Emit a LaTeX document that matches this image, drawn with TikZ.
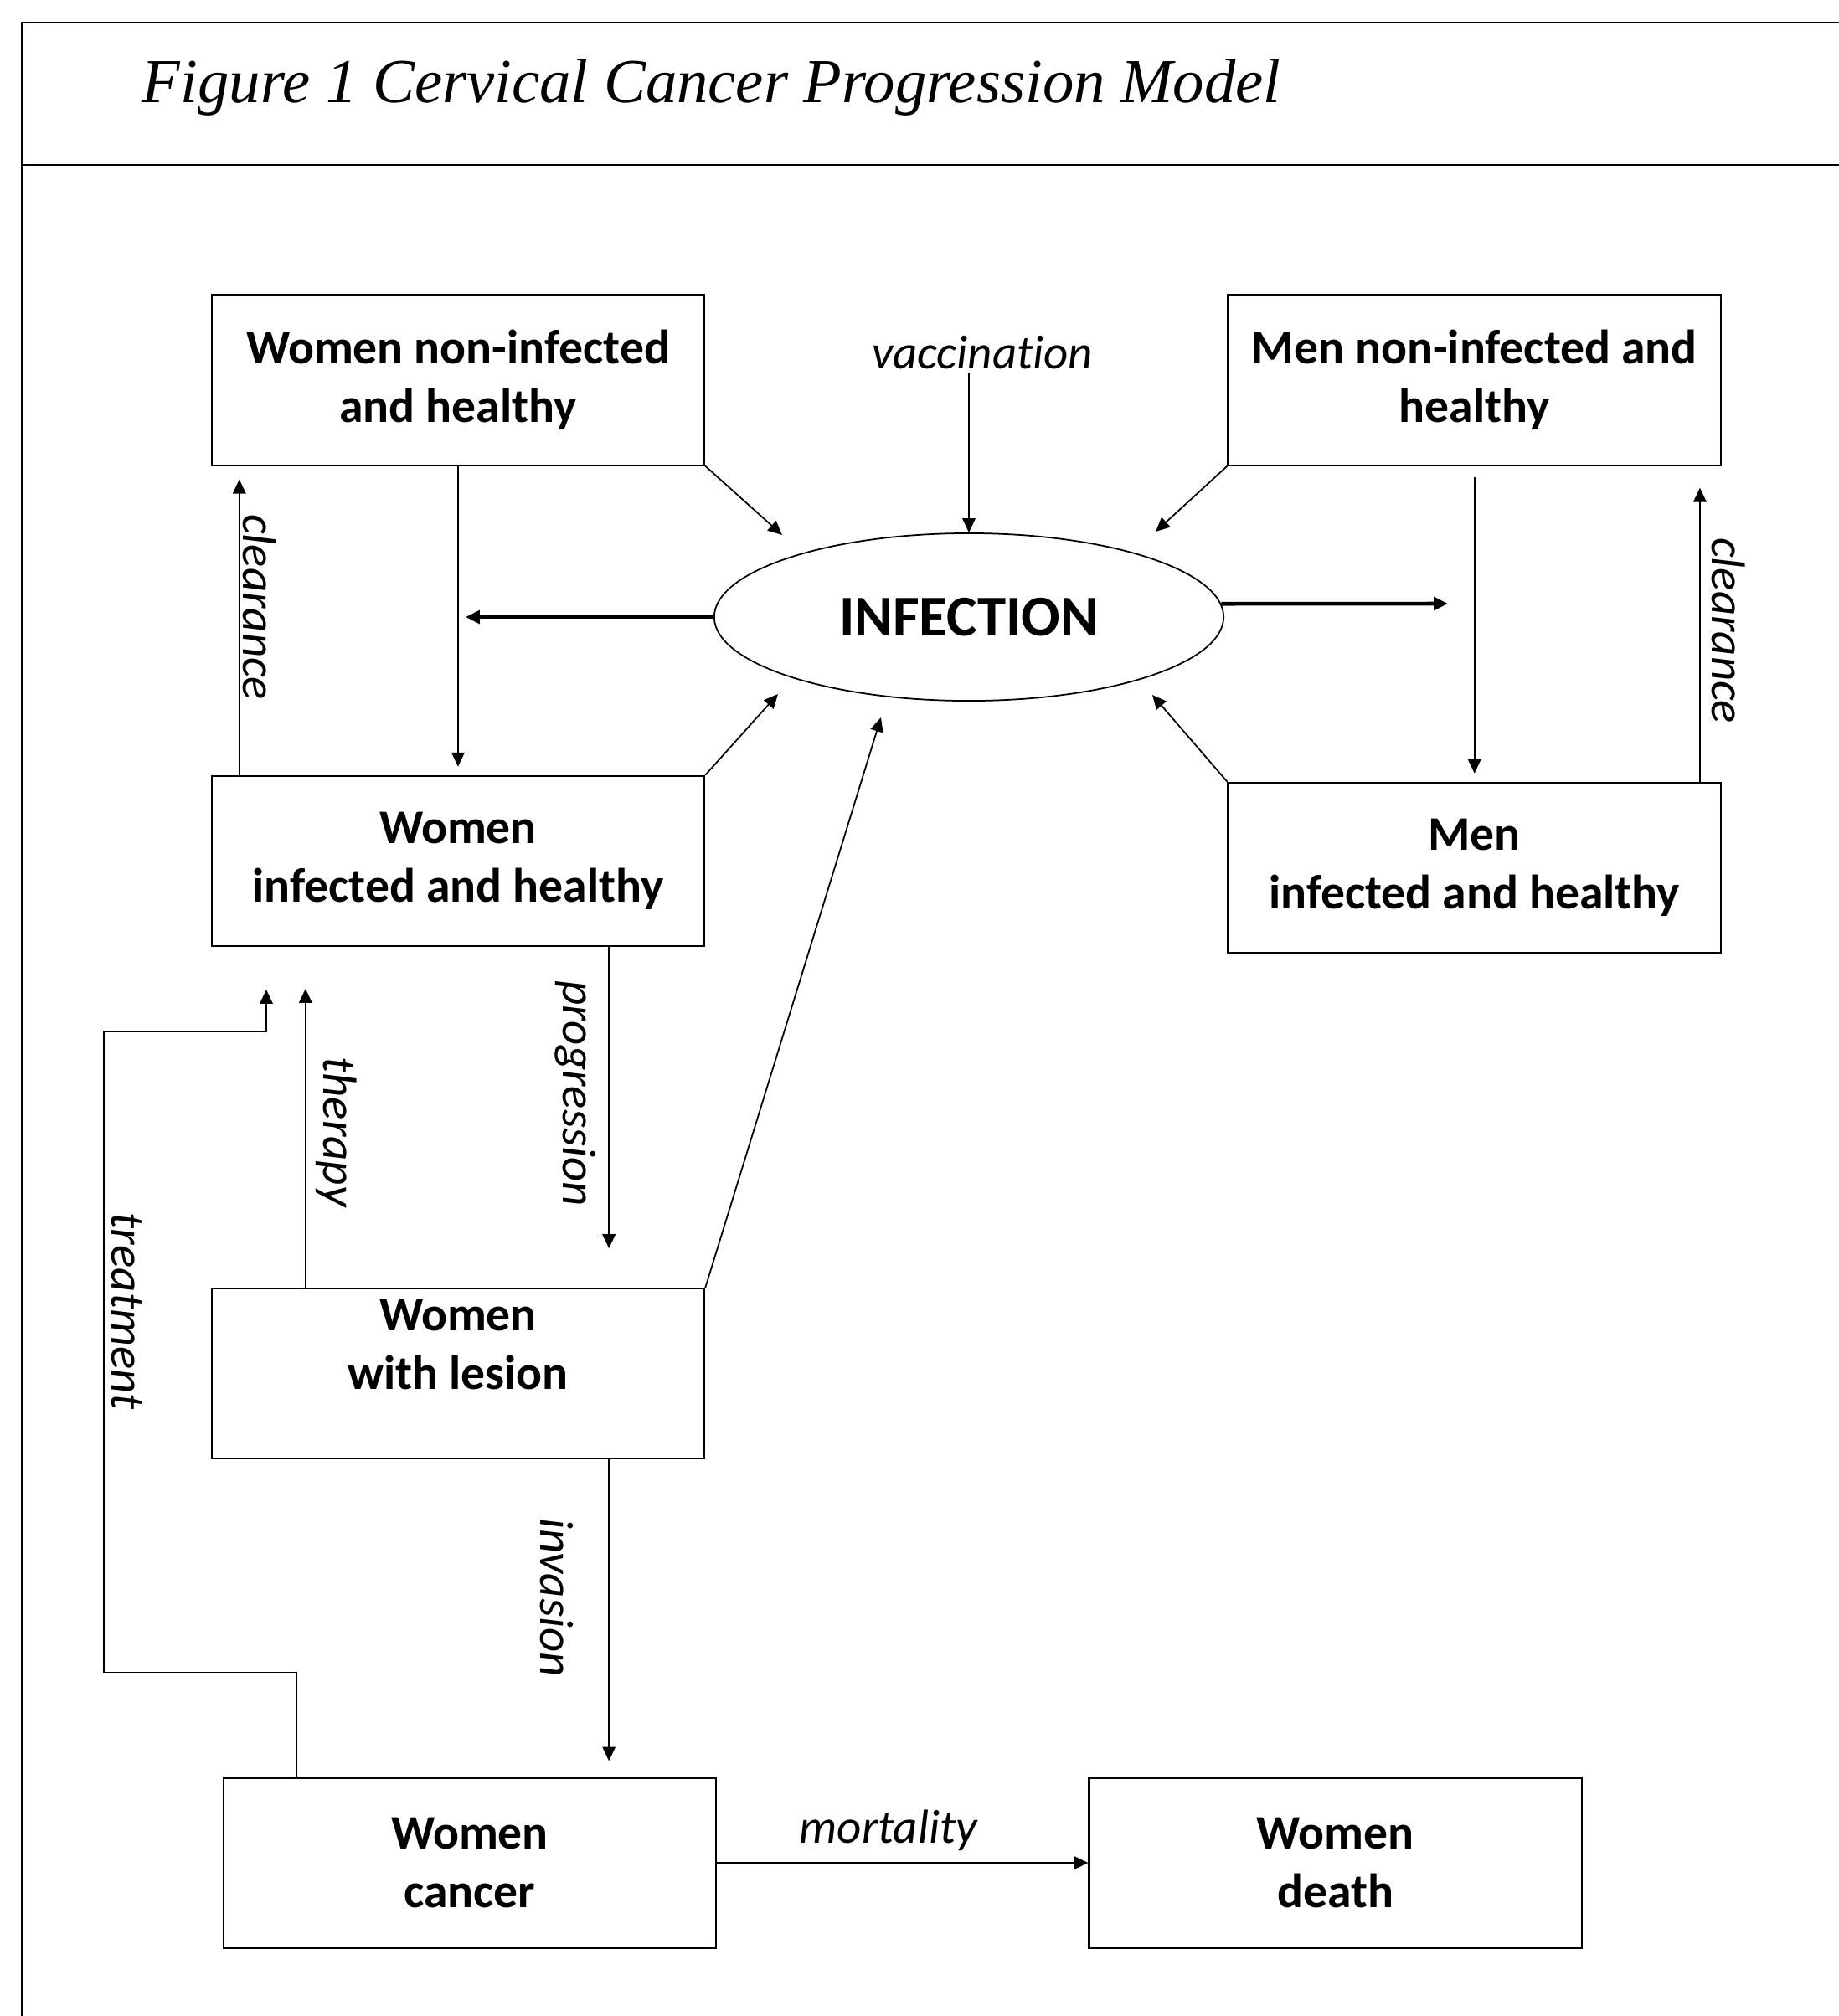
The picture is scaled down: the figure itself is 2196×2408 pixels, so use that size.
\documentclass[tikz,border=0pt]{standalone}
\usepackage{fontspec}
\usepackage{tikz}
\usetikzlibrary{arrows.meta,positioning,shapes.geometric}
\newfontfamily\calibri[Ligatures=NoCommon]{Carlito}
\newfontfamily\titlefont{Liberation Serif}

\begin{document}
\begin{tikzpicture}[x=0.01cm,y=-0.01cm,on grid,line width=0.5pt,
        >={Triangle[length=4.8pt,width=4.4pt]},
        box/.style={draw,rectangle,line width=0.6pt,minimum width=5.88cm,minimum height=2.03cm,
            inner sep=0pt,align=center,font=\calibri\bfseries\fontsize{16.4}{19.8}\selectfont},
        lbl/.style={inner sep=1pt,font=\calibri\itshape\fontsize{16.2}{19}\selectfont},
        heavy/.style={->,line width=1.3pt}]
    \useasboundingbox (0,0) rectangle (2196,2408);
    % frame and title
    \draw[line width=0.8pt] (26,2408) -- (26,27) -- (2196,27);
    \draw[line width=0.8pt] (26,197) -- (2196,197);
    \node[anchor=base west,inner sep=0pt,font=\titlefont\itshape\fontsize{21.25}{25}\selectfont] (title) at (169,122)
        {Figure 1 Cervical Cancer Progression Model};
    % compartments
    \node[box] (w_1) at (547,454) {Women non-infected\\and healthy};
    \node[box] (w_2) [below=5.74cm of w_1] {Women\\infected and healthy};
    \node[box] (w_3) [below=6.12cm of w_2] {Women\\with lesion\\ ~};
    \node[box] (w_4) [below right=5.84cm and 0.14cm of w_3] {Women\\cancer};
    \node[box] (w_5) [right=10.33cm of w_4] {Women\\death};
    \node[box] (m_1) [right=12.13cm of w_1] {Men non-infected and\\healthy};
    \node[box] (m_2) [below=5.82cm of m_1] {Men\\infected and healthy};
    \node[draw,ellipse,minimum width=6.08cm,minimum height=2cm,inner sep=0pt,
        font=\calibri\bfseries\fontsize{19.6}{23}\selectfont] (inf) at (1157,737) {INFECTION};
    \node[lbl] (vac) at (1173,421) {vaccination};
    % free ends
    \coordinate (i_1) at (934,639);
    \coordinate (i_2) at (1380,635);
    \coordinate (i_3) at (929,829);
    \coordinate (i_4) at (1376,830);
    \coordinate (i_5) at (1052,857);
    \coordinate (l_1) at (556,737);
    \coordinate (r_1) at (1729,721);
    \path[->]
        (w_1.south east) edge (i_1)
        (m_1.south west) edge (i_2)
        (w_2.north east) edge (i_3)
        (m_2.north west) edge (i_4)
        (w_3.north east) edge (i_5)
        (vac.south -| inf.north) edge (inf.north)
        (w_1) edge [shorten >=0.1cm] (w_2)
        (m_1.south) edge [shorten <=0.13cm,shorten >=0.1cm] (m_1.south |- m_2.north)
        ([xshift=0.34cm]w_2.north west) edge [shorten >=0.16cm] ([xshift=0.34cm]w_1.south west)
        ([xshift=-0.26cm]m_2.north east) edge [shorten >=0.26cm] ([xshift=-0.26cm]m_1.south east)
        ([xshift=-1.15cm]w_2.south east) edge [shorten >=0.47cm] ([xshift=-1.15cm]w_3.north east)
        ([xshift=1.13cm]w_3.north west) edge [shorten >=0.5cm] ([xshift=1.13cm]w_2.south west)
        ([xshift=-1.15cm]w_3.south east) edge [shorten >=0.19cm] ([xshift=-1.15cm]w_3.south east |- w_4.north);
    \draw[heavy] (inf.west) -- (l_1);
    \draw[heavy] (inf.3) -- (r_1);
    \draw[->] ([xshift=0.88cm]w_4.north west) -- ++(0,-125) -| (124,1232) -| (318,1182);
    \draw[->,line width=0.75pt] (w_4) -- node[lbl,above=0.1cm,xshift=-0.17cm] {mortality} (w_5);
    % rate labels
    \node[lbl,rotate=-90] (c_1) at (310,725) {clearance};
    \node[lbl,rotate=-90] (c_2) at (2064,753) {clearance};
    \node[lbl,rotate=-90] (p_1) at (687,1306) {progression};
    \node[lbl,rotate=-90] (t_1) at (402,1352) {therapy};
    \node[lbl,rotate=-90] (v_1) at (665,1908) {invasion};
    \node[lbl,rotate=-90] (t_2) at (151,1566) {treatment};
\end{tikzpicture}
\end{document}
